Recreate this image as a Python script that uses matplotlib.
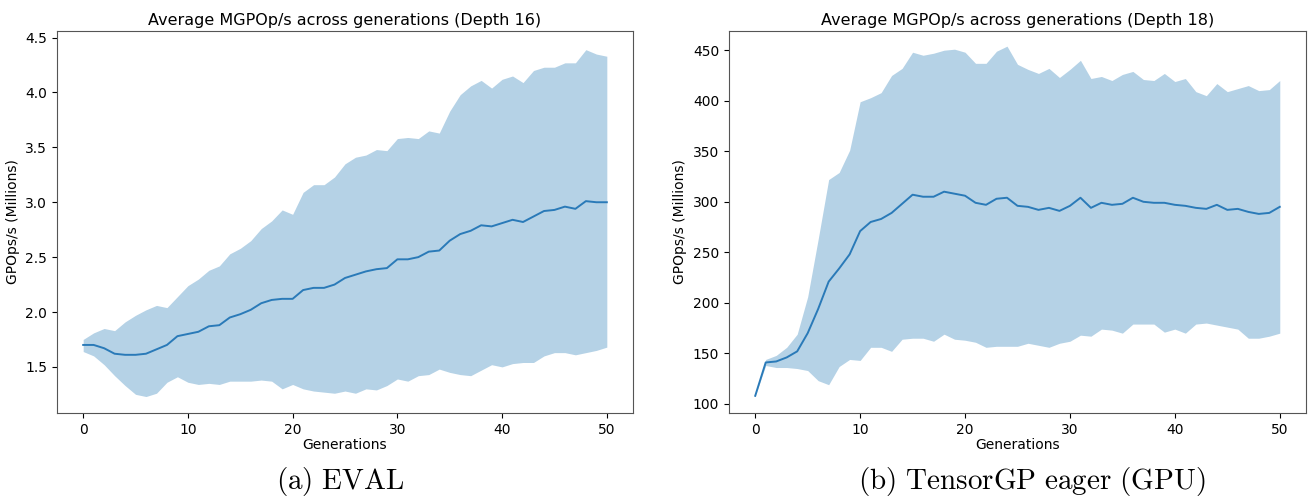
import matplotlib.pyplot as plt
import numpy as np

plt.rcParams['mathtext.fontset'] = 'cm'

gens = np.arange(51)

# EVAL, depth 16 (millions of GPOp/s)
eval_mean = [1.70, 1.70, 1.67, 1.62, 1.61, 1.61, 1.62, 1.66, 1.70, 1.78,
             1.80, 1.82, 1.87, 1.88, 1.95, 1.98, 2.02, 2.08, 2.11, 2.12,
             2.12, 2.20, 2.22, 2.22, 2.25, 2.31, 2.34, 2.37, 2.39, 2.40,
             2.48, 2.48, 2.50, 2.55, 2.56, 2.65, 2.71, 2.74, 2.79, 2.78,
             2.81, 2.84, 2.82, 2.87, 2.92, 2.93, 2.96, 2.94, 3.01, 3.00,
             3.00]
eval_upper = [1.75, 1.81, 1.85, 1.83, 1.91, 1.97, 2.02, 2.06, 2.04, 2.14,
              2.24, 2.30, 2.38, 2.42, 2.53, 2.58, 2.65, 2.76, 2.83, 2.93,
              2.89, 3.09, 3.16, 3.16, 3.23, 3.35, 3.41, 3.43, 3.48, 3.47,
              3.58, 3.59, 3.58, 3.65, 3.63, 3.83, 3.98, 4.06, 4.11, 4.04,
              4.12, 4.15, 4.09, 4.20, 4.23, 4.23, 4.27, 4.27, 4.39, 4.35,
              4.33]
eval_lower = [1.64, 1.60, 1.52, 1.42, 1.33, 1.25, 1.23, 1.26, 1.36, 1.41,
              1.36, 1.34, 1.35, 1.34, 1.37, 1.37, 1.37, 1.38, 1.37, 1.30,
              1.34, 1.30, 1.28, 1.27, 1.26, 1.28, 1.26, 1.30, 1.29, 1.33,
              1.39, 1.37, 1.42, 1.43, 1.48, 1.45, 1.43, 1.42, 1.47, 1.52,
              1.50, 1.53, 1.54, 1.54, 1.60, 1.63, 1.63, 1.61, 1.63, 1.65,
              1.68]

# TensorGP eager (GPU), depth 18
tgp_mean = [108, 141, 142, 146, 152, 170, 194, 221, 234, 248,
            271, 280, 283, 289, 298, 307, 305, 305, 310, 308,
            306, 299, 297, 303, 304, 296, 295, 292, 294, 291,
            296, 304, 294, 299, 297, 298, 304, 300, 299, 299,
            297, 296, 294, 293, 297, 292, 293, 290, 288, 289,
            295]
tgp_upper = [108, 144, 148, 156, 169, 206, 263, 322, 329, 351,
             399, 403, 408, 425, 432, 448, 445, 447, 450, 451,
             448, 437, 437, 449, 454, 436, 431, 427, 432, 423,
             431, 440, 422, 424, 420, 426, 429, 421, 420, 427,
             419, 422, 409, 405, 417, 409, 412, 415, 410, 411,
             420]
tgp_lower = [108, 138, 136, 136, 135, 133, 123, 119, 137, 144,
             143, 156, 156, 152, 164, 165, 165, 162, 169, 164,
             163, 161, 156, 157, 157, 157, 160, 158, 156, 160,
             162, 168, 167, 174, 173, 170, 179, 179, 179, 171,
             174, 170, 179, 180, 178, 176, 174, 165, 165, 167,
             170]

fig = plt.figure(figsize=(13.08, 4.97), dpi=100)
ax1 = fig.add_axes([57 / 1308, 1 - 413 / 497, 576 / 1308, 382 / 497])
ax2 = fig.add_axes([729 / 1308, 1 - 413 / 497, 577 / 1308, 382 / 497])

panels = [
    (ax1, eval_mean, eval_lower, eval_upper, 'Average MGPOp/s across generations (Depth 16)'),
    (ax2, tgp_mean, tgp_lower, tgp_upper, 'Average MGPOp/s across generations (Depth 18)'),
]
for ax, mean, lower, upper, title in panels:
    ax.fill_between(gens, lower, upper, color='#1f77b4', alpha=0.33, linewidth=0)
    ax.plot(gens, mean, color='#2a7ab8', linewidth=1.4)
    ax.set_title(title, fontsize=11.5, pad=4)
    ax.set_xlabel('Generations', fontsize=10, labelpad=1)
    ax.set_ylabel('GPOps/s (Millions)', fontsize=10)
    ax.tick_params(labelsize=10)
    ax.set_xticks([0, 10, 20, 30, 40, 50])
    ax.set_xlim(-2.5, 52.5)
    for s in ax.spines.values():
        s.set_color('#555555')

ax1.set_ylim(1.08, 4.56)
ax1.set_yticks([1.5, 2.0, 2.5, 3.0, 3.5, 4.0, 4.5])
ax2.set_ylim(91, 469)

fig.text(340 / 1308, 1 - 481 / 497, r'$\mathrm{(a)\ EVAL}$', ha='center', va='center', fontsize=21)
fig.text(1032 / 1308, 1 - 481 / 497, r'$\mathrm{(b)\ TensorGP\ eager\ (GPU)}$', ha='center', va='center', fontsize=21)

fig.savefig('out.png', dpi=100)
